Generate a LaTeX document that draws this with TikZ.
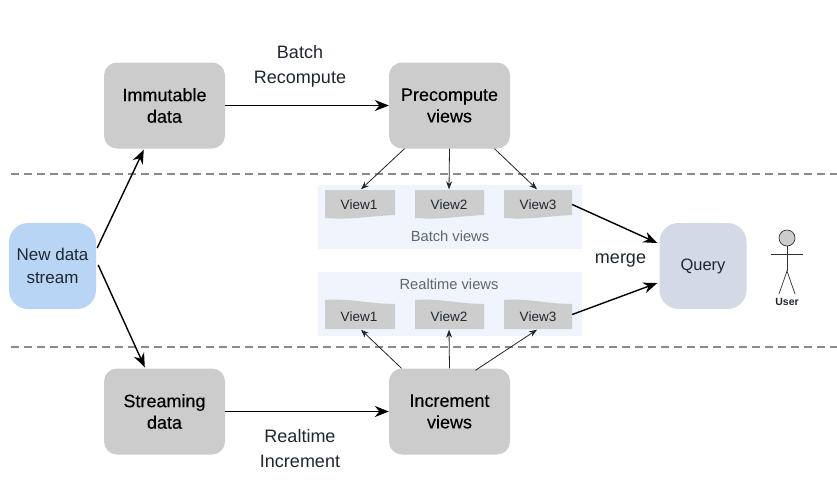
\documentclass[tikz,border=0pt]{standalone}
\usepackage{fontspec}
\setmainfont{Liberation Sans}
\newfontfamily\heavyfont[FakeBold=0.2]{Liberation Sans}
\usetikzlibrary{arrows.meta,calc}
\definecolor{boxgrey}{HTML}{CCCCCC}
\definecolor{viewgrey}{HTML}{CDCDCD}
\definecolor{panelblue}{HTML}{EFF4FD}
\definecolor{streamblue}{HTML}{B9D5F6}
\definecolor{queryblue}{HTML}{D3DAE6}
\definecolor{inktext}{HTML}{1F2730}
\definecolor{softtext}{HTML}{5E6670}
\definecolor{dashgrey}{HTML}{8A8A8A}
\tikzset{
  stagebox/.style={draw=none,fill=boxgrey,rounded corners=13pt,minimum width=121pt,minimum height=86pt,
    align=center,text=black,font=\heavyfont\fontsize{18}{21.5}\selectfont,inner sep=0pt},
  sidebox/.style={draw=none,rounded corners=19pt,minimum width=87pt,minimum height=86pt,align=center,
    text=inktext,inner sep=0pt},
  panel/.style={draw=none,fill=panelblue,minimum width=264pt,minimum height=64pt,inner sep=0pt},
  viewlabel/.style={text=inktext,font=\fontsize{13.5}{16}\selectfont,inner sep=0pt,minimum width=68pt,minimum height=28pt},
  paneltitle/.style={text=softtext,font=\fontsize{14.7}{17}\selectfont,inner sep=0pt},
  edgelabel/.style={text=inktext,align=center,font=\fontsize{18}{25.5}\selectfont,inner sep=0pt},
  bigarrow/.style={draw=black,line width=1.4pt,-{Stealth[length=14pt,width=11pt]}},
  smallarrow/.style={draw=black!85,line width=0.8pt,-{Stealth[length=8pt,width=6pt]}},
  zone/.style={draw=dashgrey,line width=1.1pt,dash pattern=on 8pt off 5pt},
  figure/.style={draw=black!80,line width=0.7pt}
}
% View sheet with a sagging lower edge
\newcommand{\lowsheet}[3]{%
  \fill[viewgrey] (#1,#2) -- (#1+#3,#2) -- (#1+#3,#2+25)
    .. controls (#1+#3*0.65,#2+26) and (#1+#3*0.4,#2+30) .. (#1,#2+28) -- cycle;}
% View sheet with a swelling upper edge
\newcommand{\highsheet}[3]{%
  \fill[viewgrey] (#1,#2+29) -- (#1+#3,#2+29) -- (#1+#3,#2+4)
    .. controls (#1+#3*0.65,#2+4) and (#1+#3*0.35,#2-2) .. (#1,#2) -- cycle;}
\begin{document}
\begin{tikzpicture}[x=1pt,y=-1pt]
\useasboundingbox (0,0) rectangle (837,483);
\fill[white] (0,0) rectangle (837,483);

% Zone separators
\coordinate (zoneAl) at (11,174); \coordinate (zoneAr) at (837,174);
\coordinate (zoneBl) at (11,347); \coordinate (zoneBr) at (837,347);
\draw[zone] (zoneAl) -- (zoneAr);
\draw[zone] (zoneBl) -- (zoneBr);

% Serving panels
\node[panel] (batchpanel) at (450,217) {};
\node[panel] (realpanel) at (450,304) {};
\node[paneltitle] (batchtitle) at (450,236.5) {Batch views};
\node[paneltitle] (realtitle) at (449,284.5) {Realtime views};

% View sheets
\lowsheet{325}{190}{70}
\lowsheet{415}{190}{69}
\lowsheet{504}{190}{68}
\highsheet{325}{300}{70}
\highsheet{415}{300}{69}
\highsheet{504}{300}{68}
\node[viewlabel] (ba) at (359,204.5) {View1};
\node[viewlabel] (bb) at (449,204.5) {View2};
\node[viewlabel] (bc) at (538,204.5) {View3};
\node[viewlabel] (ra) at (359,316.5) {View1};
\node[viewlabel] (rb) at (449,316.5) {View2};
\node[viewlabel] (rc) at (538,316.5) {View3};

% Main boxes
\node[stagebox] (immutable) at (164.5,105.5) {Immutable\\data};
\node[stagebox] (precompute) at (449.5,105.5) {Precompute\\views};
\node[stagebox] (streaming) at (164.5,411.5) {Streaming\\data};
\node[stagebox] (increment) at (449.5,411.5) {Increment\\views};
\node[sidebox,fill=streamblue,font=\fontsize{17}{23.5}\selectfont] (stream) at (52.5,266) {New data\\stream};
\node[sidebox,fill=queryblue,font=\fontsize{16.5}{20}\selectfont] (query) at (703,266) {\raisebox{-4pt}{Query}};

% Edge labels
\node[edgelabel] (lblbatch) at (300,66.5) {Batch\\Recompute};
\node[edgelabel] (lblreal) at (300,448.5) {Realtime\\Increment};
\node[edgelabel] (lblmerge) at (620.5,261) {merge};

% Main flow
\draw[bigarrow] (immutable.east) -- (precompute.west);
\draw[bigarrow] (streaming.east) -- (increment.west);
\draw[bigarrow] ($(stream.east)+(1,-18)$) -- ($(immutable.south west)+(40,1)$);
\draw[bigarrow] ($(stream.east)+(2,-1)$) -- ($(streaming.north west)+(41,-1)$);
\draw[bigarrow] (bc.east) ++(0,0) -- ($(query.west)+(-2,-23)$);
\draw[bigarrow] (rc.east) ++(0,-2) -- ($(query.west)+(-2,17)$);

% Fan-out into the views
\draw[smallarrow] ($(precompute.south)+(-45,0)$) -- ($(ba.north)+(2,-1)$);
\draw[smallarrow] (precompute.south) -- ($(bb.north)+(0,-1)$);
\draw[smallarrow] ($(precompute.south)+(45,0)$) -- ($(bc.north)+(-1,-1)$);
\draw[smallarrow] ($(increment.north)+(-48,0)$) -- ($(ra.south)+(2,-1)$);
\draw[smallarrow] (increment.north) -- ($(rb.south)+(0,-1)$);
\draw[smallarrow] ($(increment.north)+(26,2)$) -- ($(rc.south)+(-1,-1)$);

% User figure
\coordinate (hip) at (787,271);
\coordinate (armL) at (771,254); \coordinate (armR) at (803,254);
\coordinate (footL) at (779,294); \coordinate (footR) at (795,294);
\node[circle,fill=boxgrey,draw=black!80,line width=0.7pt,minimum size=16pt,inner sep=0pt] (head) at (787,238) {};
\draw[figure] (head.south) -- (hip);
\draw[figure] (armL) -- (armR);
\draw[figure] (footL) -- (hip) -- (footR);
\node[inner sep=0pt,font=\bfseries\fontsize{10.5}{12}\selectfont,text=inktext] (usertext) at (787,301.5) {User};
\end{tikzpicture}
\end{document}
